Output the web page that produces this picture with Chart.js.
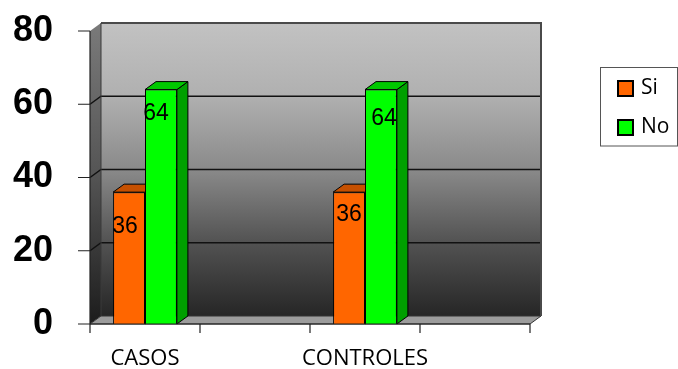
<!DOCTYPE html>
<html>
<head>
<meta charset="utf-8">
<script src="https://cdn.jsdelivr.net/npm/chart.js@4"></script>
<style>
  html, body { margin: 0; padding: 0; background: #ffffff; }
  canvas { display: block; }
</style>
</head>
<body>
<canvas id="chart" width="678" height="369"></canvas>
<script>
// Categories (the two blank slots keep the wide spacing between groups)
const categories = ['CASOS', '', 'CONTROLES', ''];
// Series values
const siValues = [36, null, 36, null];
const noValues = [64, null, 64, null];
// Series names and value-axis ticks
const seriesNames = ['Si', 'No'];
const yTicks = [0, 20, 40, 60, 80];

// Depth of the 3-D extrusion (walls, floor and bar tops/sides)
const DX = 11, DY = -8;

const depthPlugin = {
  id: 'depth3d',
  beforeDatasetsDraw(chart) {
    const { ctx, chartArea: a, scales: { y } } = chart;
    const bl = a.left + DX, br = a.right + DX, bt = a.top + DY, bb = a.bottom + DY;
    ctx.save();

    // back wall
    const g = ctx.createLinearGradient(0, bt, 0, bb);
    g.addColorStop(0, '#c2c2c2');
    g.addColorStop(0.25, '#b0b0b0');
    g.addColorStop(0.5, '#8a8a8a');
    g.addColorStop(0.75, '#525252');
    g.addColorStop(1, '#262626');
    ctx.fillStyle = g;
    ctx.fillRect(bl, bt, br - bl, bb - bt);

    // side wall
    const gs = ctx.createLinearGradient(0, bt, 0, a.bottom);
    gs.addColorStop(0, '#7a7a7a');
    gs.addColorStop(0.5, '#555555');
    gs.addColorStop(1, '#1c1c1c');
    ctx.fillStyle = gs;
    ctx.beginPath();
    ctx.moveTo(a.left, a.top);
    ctx.lineTo(bl, bt);
    ctx.lineTo(bl, bb);
    ctx.lineTo(a.left, a.bottom);
    ctx.closePath();
    ctx.fill();

    // floor
    ctx.fillStyle = '#9c9c9c';
    ctx.strokeStyle = '#333333';
    ctx.lineWidth = 1;
    ctx.beginPath();
    ctx.moveTo(a.left, a.bottom);
    ctx.lineTo(bl, bb);
    ctx.lineTo(br, bb);
    ctx.lineTo(a.right, a.bottom);
    ctx.closePath();
    ctx.fill();
    ctx.stroke();

    // gridlines on side and back walls
    ctx.strokeStyle = '#111111';
    ctx.lineWidth = 1.5;
    yTicks.forEach(v => {
      if (v === yTicks[0] || v === yTicks[yTicks.length - 1]) return;
      const py = y.getPixelForValue(v);
      ctx.beginPath();
      ctx.moveTo(a.left, py);
      ctx.lineTo(bl, py + DY);
      ctx.lineTo(br, py + DY);
      ctx.stroke();
    });

    // wall outline (top and right edges)
    ctx.strokeStyle = '#4a4a4a';
    ctx.lineWidth = 2;
    ctx.beginPath();
    ctx.moveTo(bl, bt);
    ctx.lineTo(br, bt);
    ctx.lineTo(br, bb);
    ctx.stroke();
    ctx.strokeStyle = '#3a3a3a';
    ctx.lineWidth = 1;
    ctx.beginPath();
    ctx.moveTo(bl, bt);
    ctx.lineTo(bl, bb);
    ctx.stroke();

    // bar tops and sides
    ctx.strokeStyle = '#000000';
    ctx.lineWidth = 1;
    chart.data.datasets.forEach((ds, i) => {
      const meta = chart.getDatasetMeta(i);
      meta.data.forEach((bar, j) => {
        if (ds.data[j] == null) return;
        const { x, y: top, base, width } = bar.getProps(['x', 'y', 'base', 'width'], true);
        const x0 = x - width / 2, x1 = x + width / 2;
        ctx.fillStyle = ds.sideColor;
        ctx.beginPath();
        ctx.moveTo(x1, top);
        ctx.lineTo(x1 + DX, top + DY);
        ctx.lineTo(x1 + DX, base + DY);
        ctx.lineTo(x1, base);
        ctx.closePath();
        ctx.fill();
        ctx.stroke();
        ctx.fillStyle = ds.topColor;
        ctx.beginPath();
        ctx.moveTo(x0, top);
        ctx.lineTo(x0 + DX, top + DY);
        ctx.lineTo(x1 + DX, top + DY);
        ctx.lineTo(x1, top);
        ctx.closePath();
        ctx.fill();
        ctx.stroke();
      });
    });
    ctx.restore();
  },
  afterDraw(chart) {
    const { ctx, chartArea: a, scales: { y } } = chart;
    ctx.save();
    ctx.strokeStyle = '#222222';
    ctx.lineWidth = 1.2;
    // value axis line and ticks
    ctx.beginPath();
    ctx.moveTo(a.left, a.top);
    ctx.lineTo(a.left, a.bottom + 9);
    yTicks.forEach(v => {
      const py = y.getPixelForValue(v);
      ctx.moveTo(a.left - 12, py);
      ctx.lineTo(a.left, py);
    });
    // category axis line and ticks at category boundaries
    ctx.moveTo(a.left, a.bottom);
    ctx.lineTo(a.right, a.bottom);
    const step = (a.right - a.left) / categories.length;
    for (let i = 0; i <= categories.length; i++) {
      const px = a.left + i * step;
      ctx.moveTo(px, a.bottom);
      ctx.lineTo(px, a.bottom + 9);
    }
    ctx.stroke();
    ctx.restore();
  }
};

const valueLabelPlugin = {
  id: 'barValueLabels',
  afterDatasetsDraw(chart, args, opts) {
    const { ctx } = chart;
    ctx.save();
    ctx.fillStyle = opts.color;
    ctx.font = opts.font;
    ctx.textAlign = 'center';
    ctx.textBaseline = 'middle';
    chart.data.datasets.forEach((ds, i) => {
      const meta = chart.getDatasetMeta(i);
      meta.data.forEach((bar, j) => {
        const v = ds.data[j];
        if (v == null) return;
        const off = opts.offsets[i][j];
        ctx.fillText(String(v), bar.x + off.dx, bar.y + off.dy);
      });
    });
    ctx.restore();
  }
};

const boxLegendPlugin = {
  id: 'boxLegend',
  afterDraw(chart, args, opts) {
    const { ctx } = chart;
    ctx.save();
    ctx.strokeStyle = '#555555';
    ctx.lineWidth = 1;
    ctx.strokeRect(opts.left, opts.top, opts.width, opts.height);
    ctx.font = opts.font;
    ctx.textAlign = 'left';
    ctx.textBaseline = 'middle';
    const s = opts.swatch;
    chart.data.datasets.forEach((ds, i) => {
      const cy = opts.top + opts.firstRow + i * opts.rowGap;
      ctx.fillStyle = ds.backgroundColor;
      ctx.fillRect(opts.left + 17.5, cy - s / 2, s, s);
      ctx.strokeStyle = '#000000';
      ctx.lineWidth = 2;
      ctx.strokeRect(opts.left + 17.5, cy - s / 2, s, s);
      ctx.fillStyle = '#000000';
      ctx.fillText(ds.label, opts.left + 40.5, cy);
    });
    ctx.restore();
  }
};

new Chart(document.getElementById('chart'), {
  type: 'bar',
  data: {
    labels: categories,
    datasets: [
      {
        label: seriesNames[0],
        data: siValues,
        backgroundColor: '#ff6600',
        topColor: '#c65000',
        sideColor: '#b84a00',
        borderColor: '#000000',
        borderWidth: 1,
        categoryPercentage: 0.58,
        barPercentage: 1.0
      },
      {
        label: seriesNames[1],
        data: noValues,
        backgroundColor: '#00ff00',
        topColor: '#00c800',
        sideColor: '#00a000',
        borderColor: '#000000',
        borderWidth: 1,
        categoryPercentage: 0.58,
        barPercentage: 1.0
      }
    ]
  },
  options: {
    responsive: false,
    animation: false,
    layout: { padding: { top: 31, right: 148, bottom: 0, left: 0 } },
    scales: {
      x: {
        grid: { display: false, drawTicks: true, tickLength: 22 },
        border: { display: false },
        ticks: {
          color: '#000000',
          font: { family: 'Open Sans', size: 22 },
          padding: 0,
          maxRotation: 0,
          autoSkip: false
        },
        afterFit(s) { s.height = 45; }
      },
      y: {
        min: 0,
        max: 80,
        grid: { display: false, drawTicks: true, tickLength: 37 },
        border: { display: false },
        ticks: {
          color: '#000000',
          font: { family: 'Liberation Sans', size: 36, weight: 'bold' },
          padding: 0
        },
        afterBuildTicks(s) { s.ticks = yTicks.map(v => ({ value: v })); },
        afterFit(s) { s.width = 90; }
      }
    },
    plugins: {
      legend: { display: false },
      tooltip: { enabled: false },
      barValueLabels: {
        color: '#000000',
        font: '23px "Liberation Sans"',
        offsets: [
          [{ dx: -4, dy: 35 }, null, { dx: 0, dy: 23 }, null],
          [{ dx: -5, dy: 24 }, null, { dx: 3, dy: 29 }, null]
        ]
      },
      boxLegend: {
        left: 600.5,
        top: 67.5,
        width: 77,
        height: 78.5,
        firstRow: 21,
        rowGap: 39,
        swatch: 15,
        font: '21px "Open Sans"'
      }
    }
  },
  plugins: [depthPlugin, valueLabelPlugin, boxLegendPlugin]
});
</script>
</body>
</html>
